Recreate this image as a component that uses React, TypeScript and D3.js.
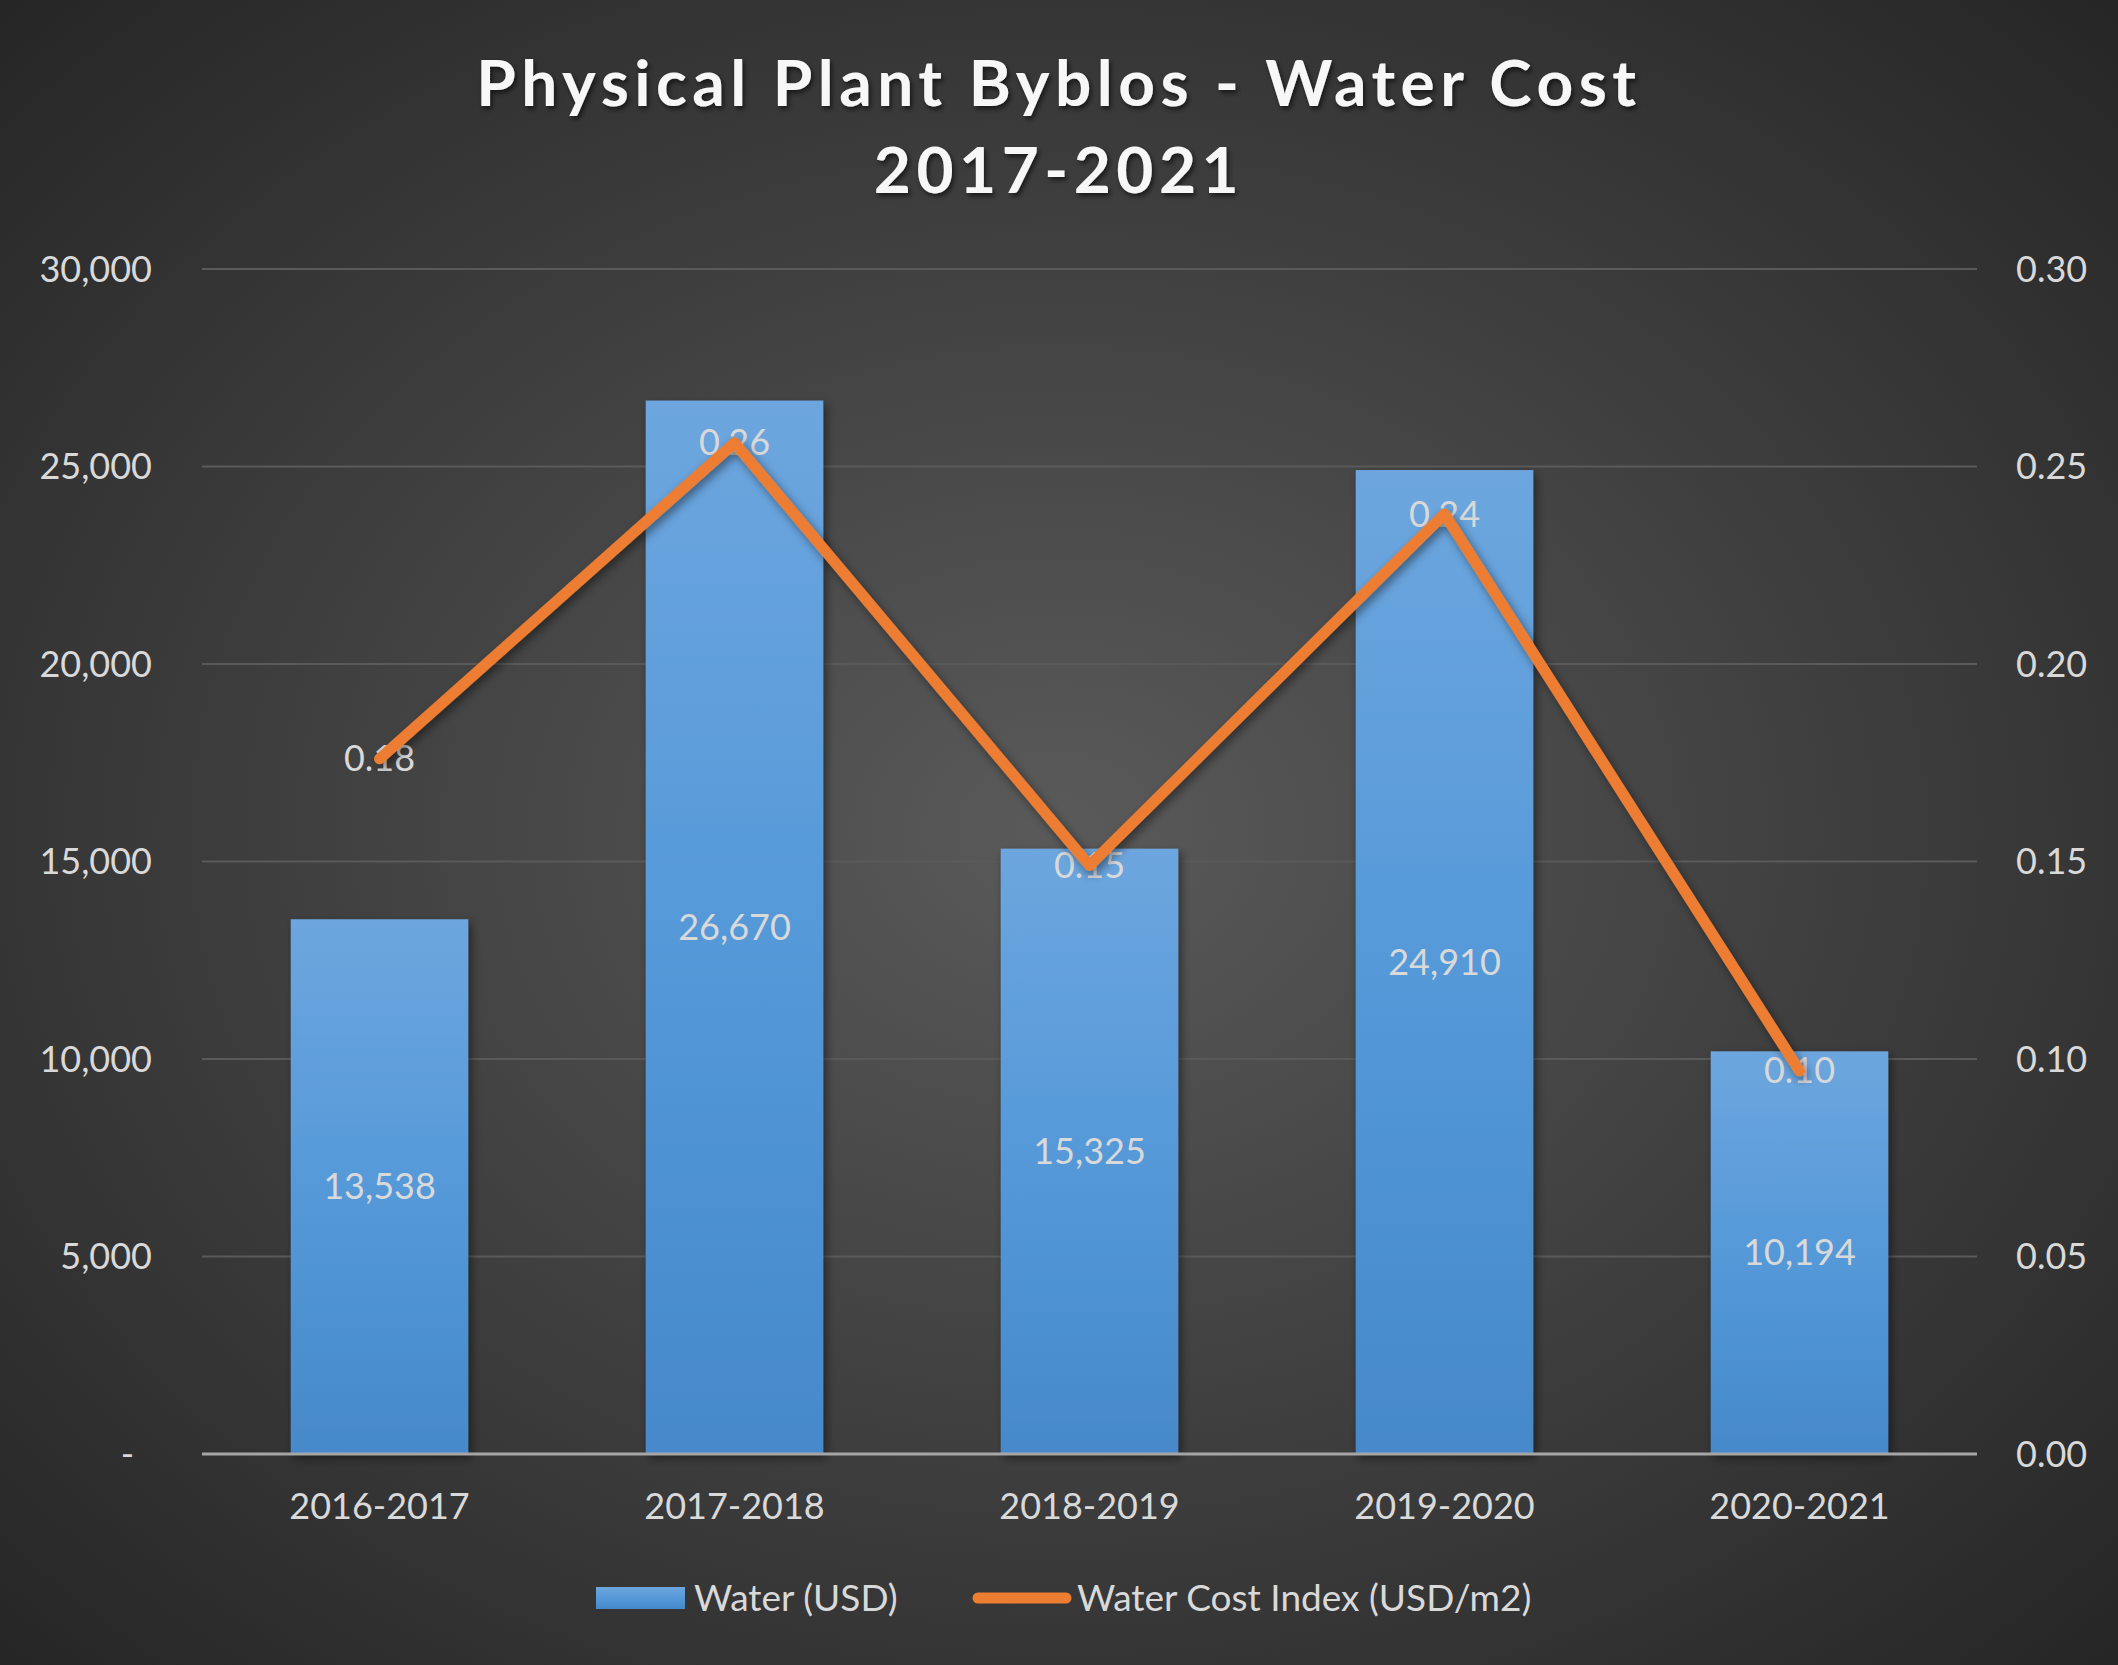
import React, { useEffect } from "react";
import * as d3 from "d3";

const categories = ["2016-2017", "2017-2018", "2018-2019", "2019-2020", "2020-2021"];
const waterUSD = [13538, 26670, 15325, 24910, 10194];
const costIndex = [0.176, 0.256, 0.149, 0.238, 0.097];
const leftTicks = [0, 5000, 10000, 15000, 20000, 25000, 30000];
const rightTicks = [0, 0.05, 0.1, 0.15, 0.2, 0.25, 0.3];
const titleLines = ["Physical Plant Byblos - Water Cost", "2017-2021"];
const seriesNames = ["Water (USD)", "Water Cost Index (USD/m2)"];

const W = 2118;
const H = 1665;
const plot = { left: 202, right: 1977, top: 269, bottom: 1454 };
const FONT = "Lato, 'Noto Sans', sans-serif";
const TXT = "#D9D9D9";

export default function App() {
  useEffect(() => {
    document.body.style.margin = "0";
  }, []);

  const x = d3.scaleBand<string>().domain(categories).range([plot.left, plot.right]).paddingInner(0.5).paddingOuter(0.25);
  const yL = d3.scaleLinear().domain([0, 30000]).range([plot.bottom, plot.top]);
  const yR = d3.scaleLinear().domain([0, 0.3]).range([plot.bottom, plot.top]);
  const fmtL = (v: number) => (v === 0 ? "-" : d3.format(",")(v));
  const fmtR = d3.format(".2f");
  const cx = (c: string) => (x(c) as number) + x.bandwidth() / 2;

  const line = d3
    .line<number>()
    .x((_, i) => cx(categories[i]))
    .y((d) => yR(d));

  return (
    <svg width={W} height={H} style={{ display: "block", position: "absolute", left: 0, top: 0 }} fontFamily={FONT}>
      <defs>
        <radialGradient id="bg" cx="50%" cy="50%" r="70%">
          <stop offset="0%" stopColor="#5a5a5a" />
          <stop offset="100%" stopColor="#262626" />
        </radialGradient>
        <linearGradient id="barGrad" x1="0" y1="0" x2="0" y2="1">
          <stop offset="0%" stopColor="#6da6de" />
          <stop offset="50%" stopColor="#5599d9" />
          <stop offset="100%" stopColor="#4689cb" />
        </linearGradient>
        <filter id="shadow" x="-20%" y="-20%" width="140%" height="140%">
          <feDropShadow dx="3" dy="4" stdDeviation="5" floodColor="#000" floodOpacity="0.45" />
        </filter>
        <filter id="tshadow" x="-10%" y="-30%" width="120%" height="160%">
          <feDropShadow dx="2" dy="3" stdDeviation="2.5" floodColor="#000" floodOpacity="0.6" />
        </filter>
      </defs>
      <rect width={W} height={H} fill="url(#bg)" />

      {/* title */}
      <g filter="url(#tshadow)" fill="#F7F7F7" fontWeight="bold" fontSize={64} textAnchor="middle" letterSpacing={5.5}>
        <text x={W / 2} y={106}>{titleLines[0]}</text>
        <text x={W / 2} y={193}>{titleLines[1]}</text>
      </g>

      {/* gridlines */}
      {leftTicks.slice(1).map((t) => (
        <line key={t} x1={plot.left} x2={plot.right} y1={yL(t)} y2={yL(t)} stroke="#5a5a5a" strokeWidth={2} />
      ))}

      {/* left axis labels */}
      {leftTicks.map((t) => (
        <text key={t} x={t === 0 ? 134 : 152} y={yL(t)} dy="0.35em" textAnchor="end" fontSize={36} fill={TXT}>
          {fmtL(t)}
        </text>
      ))}
      {/* right axis labels */}
      {rightTicks.map((t) => (
        <text key={t} x={2016} y={yR(t)} dy="0.35em" textAnchor="start" fontSize={36} fill={TXT}>
          {fmtR(t)}
        </text>
      ))}

      {/* bars */}
      {waterUSD.map((v, i) => (
        <rect
          key={categories[i]}
          x={x(categories[i])}
          y={yL(v)}
          width={x.bandwidth()}
          height={yL(0) - yL(v)}
          fill="url(#barGrad)"
          filter="url(#shadow)"
        />
      ))}

      {/* axis line */}
      <line x1={plot.left} x2={plot.right} y1={plot.bottom} y2={plot.bottom} stroke="#a6a6a6" strokeWidth={3} />

      {/* category labels */}
      {categories.map((c) => (
        <text key={c} x={cx(c)} y={1519} textAnchor="middle" fontSize={36} fill={TXT}>
          {c}
        </text>
      ))}

      {/* bar value labels */}
      {waterUSD.map((v, i) => (
        <text
          key={"bl" + i}
          x={cx(categories[i])}
          y={(yL(v) + yL(0)) / 2}
          dy="0.35em"
          textAnchor="middle"
          fontSize={36}
          fill={TXT}
        >
          {d3.format(",")(v)}
        </text>
      ))}

      {/* line value labels */}
      {costIndex.map((v, i) => (
        <text key={"ll" + i} x={cx(categories[i])} y={yR(v)} dy="0.35em" textAnchor="middle" fontSize={36} fill={TXT}>
          {fmtR(v)}
        </text>
      ))}

      {/* line */}
      <path
        d={line(costIndex) || ""}
        fill="none"
        stroke="#ED7D31"
        strokeWidth={11}
        strokeLinecap="round"
        strokeLinejoin="round"
        filter="url(#shadow)"
      />

      {/* legend */}
      <rect x={596} y={1587} width={89} height={22} fill="url(#barGrad)" />
      <text x={694} y={1598} dy="0.35em" fontSize={37} fill={TXT}>
        {seriesNames[0]}
      </text>
      <line x1={978} x2={1066} y1={1598} y2={1598} stroke="#ED7D31" strokeWidth={11} strokeLinecap="round" />
      <text x={1077} y={1598} dy="0.35em" fontSize={37} fill={TXT}>
        {seriesNames[1]}
      </text>
    </svg>
  );
}
